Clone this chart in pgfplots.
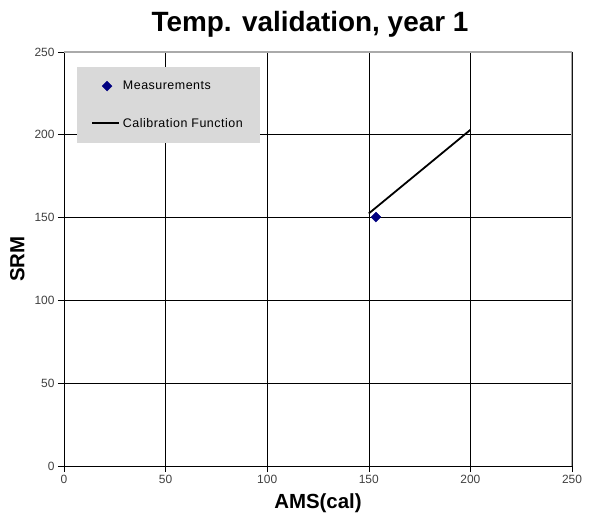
\documentclass[border=0pt]{standalone}
\usepackage{pgfplots}
\pgfplotsset{compat=1.18}
\usepackage{fontspec}
\setmainfont{Liberation Sans}
\newfontfamily\legfont[LetterSpace=4]{Liberation Sans}
\definecolor{legfill}{RGB}{217,217,217}
\definecolor{framegray}{RGB}{170,170,170}
\definecolor{marknavy}{RGB}{0,0,128}
\pgfplotsset{
  markonly legend/.style={legend image code/.code={\path (0bp,0bp); \draw[##1] plot coordinates {(28bp,0bp)};\path (40bp,0bp);}},
  longline legend/.style={legend image code/.code={\path (0bp,0bp); \draw[##1] (13bp,0bp) -- (40bp,0bp);}},
}
\begin{document}
\begin{tikzpicture}
  \begin{axis}[
    scale only axis, width=508bp, height=414bp,
    xmin=0, xmax=250, ymin=0, ymax=250,
    xtick={0,50,...,250}, ytick={0,50,...,250},
    axis lines=left, axis line style={black, line width=0.8bp, -},
    tick align=outside, major tick length=6bp,
    tick style={black, line width=0.6bp},
    grid=major, major grid style={black, line width=0.6bp},
    /pgf/number format/assume math mode=true,
    tick label style={font=\fontsize{12}{14}\selectfont, text=black!75},
    xlabel={AMS(cal)}, ylabel={SRM},
    label style={font=\bfseries\fontsize{20.5}{23}\selectfont},
    xlabel style={yshift=-3bp},
    ylabel style={yshift=3bp},
    title={Temp. validation, year 1},
    title style={font=\bfseries\fontsize{28}{32}\selectfont, yshift=5bp, xshift=-8bp},
    legend style={at={(rel axis cs:0.0256,0.964)}, anchor=north west,
      fill=legfill, draw=none, font=\legfont\fontsize{12.5}{15}\selectfont,
      inner xsep=1bp, inner ysep=12bp, row sep=23bp,
      /tikz/every odd column/.style={column sep=1bp}},
    legend cell align=left,
  ]
    \draw[framegray, line width=1.2bp] (rel axis cs:0,1) -- (rel axis cs:1,1) -- (rel axis cs:1,0);
    \addplot[only marks, mark=square*, mark options={rotate=45}, mark size=3.5bp,
      color=marknavy, markonly legend]
      coordinates {(153.5,150.3)};
    \addlegendentry{Measurements}
    \addplot[black, line width=1.8bp, mark=none, longline legend]
      coordinates {(150,152.5) (200,203)};
    \addlegendentry{Calibration Function\rule{14bp}{0pt}}
  \end{axis}
  \pgfresetboundingbox
  \path ([shift={(-64bp,-57bp)}]current axis.south west) rectangle ([shift={(24bp,52bp)}]current axis.north east);
\end{tikzpicture}
\end{document}
